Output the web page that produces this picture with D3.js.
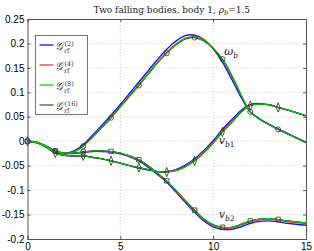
<!DOCTYPE html>
<html>
<head>
<meta charset="utf-8">
<script src="https://cdn.jsdelivr.net/npm/d3@7"></script>
<style>
  body { margin: 0; background: #fff; }
  svg { display: block; }
</style>
</head>
<body>
<div id="chart"></div>
<script>
// time samples
const tValues = [0, 0.5, 1, 1.5, 2, 2.5, 3, 3.5, 4, 4.5, 5, 5.5, 6, 6.5, 7, 7.5,
    8, 8.5, 9, 9.5, 10, 10.5, 11, 11.5, 12, 12.5, 13, 13.5, 14, 14.5, 15];

// omega_b for each refinement
const omega2 = [0, -0.002, -0.010, -0.020, -0.025, -0.020, -0.007, 0.012, 0.032, 0.053, 0.075, 0.098, 0.121, 0.144, 0.167, 0.188,
    0.205, 0.216, 0.217, 0.208, 0.189, 0.162, 0.127, 0.090, 0.060, 0.046, 0.035, 0.025, 0.016, 0.007, -0.002];
const omega4 = [0, -0.002, -0.010, -0.020, -0.026, -0.021, -0.009, 0.010, 0.030, 0.050, 0.072, 0.094, 0.116, 0.139, 0.162, 0.182,
    0.199, 0.211, 0.214, 0.207, 0.191, 0.167, 0.133, 0.093, 0.060, 0.045, 0.034, 0.024, 0.015, 0.006, -0.003];
const omega8 = [0, -0.002, -0.010, -0.020, -0.026, -0.022, -0.010, 0.008, 0.028, 0.048, 0.070, 0.092, 0.114, 0.137, 0.160, 0.180,
    0.197, 0.210, 0.213, 0.205, 0.190, 0.168, 0.135, 0.095, 0.060, 0.045, 0.034, 0.024, 0.015, 0.006, -0.003];
const omega16 = [0, -0.002, -0.010, -0.020, -0.026, -0.022, -0.010, 0.008, 0.028, 0.048, 0.070, 0.092, 0.114, 0.137, 0.160, 0.180,
    0.197, 0.209, 0.212, 0.205, 0.190, 0.168, 0.135, 0.095, 0.060, 0.045, 0.034, 0.024, 0.015, 0.006, -0.003];

// v_b1
const vb1_2 = [0, -0.003, -0.012, -0.024, -0.029, -0.030, -0.030, -0.033, -0.036, -0.040, -0.045, -0.050, -0.055, -0.059, -0.062, -0.062,
    -0.058, -0.049, -0.036, -0.019, 0.001, 0.024, 0.044, 0.063, 0.075, 0.077, 0.074, 0.069, 0.064, 0.058, 0.052];
const vb1_4 = [0, -0.003, -0.012, -0.024, -0.029, -0.030, -0.030, -0.033, -0.036, -0.040, -0.045, -0.050, -0.054, -0.058, -0.062, -0.063,
    -0.059, -0.051, -0.038, -0.022, -0.002, 0.021, 0.040, 0.060, 0.074, 0.076, 0.074, 0.069, 0.064, 0.058, 0.052];
const vb1_8 = [0, -0.003, -0.012, -0.024, -0.029, -0.030, -0.030, -0.033, -0.036, -0.040, -0.045, -0.050, -0.054, -0.058, -0.062, -0.063,
    -0.060, -0.052, -0.040, -0.024, -0.004, 0.019, 0.038, 0.059, 0.073, 0.076, 0.075, 0.069, 0.064, 0.058, 0.052];
const vb1_16 = [0, -0.003, -0.012, -0.024, -0.029, -0.030, -0.030, -0.033, -0.036, -0.040, -0.045, -0.050, -0.054, -0.058, -0.062, -0.063,
    -0.060, -0.052, -0.040, -0.024, -0.004, 0.019, 0.038, 0.059, 0.073, 0.076, 0.075, 0.069, 0.064, 0.058, 0.052];

// v_b2
const vb2_2 = [0, -0.003, -0.011, -0.020, -0.025, -0.025, -0.023, -0.021, -0.021, -0.022, -0.026, -0.032, -0.040, -0.053, -0.068, -0.084,
    -0.104, -0.125, -0.145, -0.163, -0.175, -0.180, -0.180, -0.175, -0.168, -0.164, -0.163, -0.165, -0.168, -0.170, -0.172];
const vb2_4 = [0, -0.003, -0.011, -0.020, -0.024, -0.024, -0.022, -0.020, -0.020, -0.021, -0.025, -0.031, -0.039, -0.051, -0.066, -0.082,
    -0.102, -0.123, -0.143, -0.161, -0.173, -0.178, -0.178, -0.172, -0.165, -0.161, -0.160, -0.162, -0.165, -0.167, -0.169];
const vb2_8 = [0, -0.003, -0.011, -0.020, -0.024, -0.024, -0.022, -0.020, -0.020, -0.021, -0.024, -0.030, -0.038, -0.050, -0.065, -0.081,
    -0.101, -0.121, -0.141, -0.159, -0.171, -0.176, -0.176, -0.170, -0.163, -0.159, -0.158, -0.160, -0.163, -0.165, -0.167];
const vb2_16 = [0, -0.003, -0.011, -0.020, -0.024, -0.024, -0.022, -0.020, -0.020, -0.021, -0.024, -0.030, -0.038, -0.050, -0.065, -0.081,
    -0.101, -0.121, -0.141, -0.159, -0.171, -0.176, -0.176, -0.170, -0.163, -0.159, -0.158, -0.160, -0.163, -0.165, -0.167];

const levels = ["2", "4", "8", "16"];
const levelColors = ["#1010ff", "#ff4050", "#00d000", "#000000"];
const legendColors = ["#3a3aff", "#f06070", "#30e030", "#777777"];
const xTicks = [0, 5, 10, 15];
const yTicks = [-0.2, -0.15, -0.1, -0.05, 0, 0.05, 0.1, 0.15, 0.2, 0.25];
const titleText = "Two falling bodies, body 1, ";

const width = 314, height = 251;
const margin = { top: 19, right: 8, bottom: 12, left: 27.5 };

const svg = d3.select("#chart").append("svg")
    .attr("width", width)
    .attr("height", height);

const xScale = d3.scaleLinear().domain([0, 15]).range([margin.left, width - margin.right]);
const yScale = d3.scaleLinear().domain([-0.2, 0.25]).range([height - margin.bottom, margin.top]);

// grid
svg.append("g").selectAll("line").data(xTicks.slice(1, -1)).enter().append("line")
    .attr("x1", d => xScale(d)).attr("x2", d => xScale(d))
    .attr("y1", yScale(-0.2)).attr("y2", yScale(0.25))
    .attr("stroke", "#b5b5b5").attr("stroke-width", 0.7).attr("stroke-dasharray", "1,2");
svg.append("g").selectAll("line").data(yTicks.slice(1, -1)).enter().append("line")
    .attr("y1", d => yScale(d)).attr("y2", d => yScale(d))
    .attr("x1", xScale(0)).attr("x2", xScale(15))
    .attr("stroke", "#b5b5b5").attr("stroke-width", 0.7).attr("stroke-dasharray", "1,2");

// series
const seriesGroups = [
    { name: "omega", sets: [omega2, omega4, omega8, omega16], marker: "circle" },
    { name: "vb1", sets: [vb1_2, vb1_4, vb1_8, vb1_16], marker: "diamond" },
    { name: "vb2", sets: [vb2_2, vb2_4, vb2_8, vb2_16], marker: "square" }
];

const line = d3.line()
    .x((d, i) => xScale(tValues[i]))
    .y(d => yScale(d))
    .curve(d3.curveCatmullRom.alpha(0.5));

const drawOrder = [0, 1, 3, 2];
drawOrder.forEach(k => {
    seriesGroups.forEach(g => {
        svg.append("path")
            .datum(g.sets[k])
            .attr("fill", "none")
            .attr("stroke", levelColors[k])
            .attr("stroke-width", k === 0 ? 1.4 : 1.1)
            .attr("d", line);
    });
});

// markers every 1.5 time units on the finest run
const symbols = { circle: d3.symbolCircle, diamond: d3.symbolDiamond, square: d3.symbolSquare };
const sizes = { circle: 20, diamond: 16, square: 20 };
seriesGroups.forEach(g => {
    const pts = g.sets[3].map((v, i) => ({ t: tValues[i], v: v })).filter((d, i) => i % 3 === 0 && i < 30);
    svg.append("g").selectAll("path").data(pts).enter().append("path")
        .attr("transform", d => `translate(${xScale(d.t)},${yScale(d.v)})` + (g.marker === "diamond" ? " scale(0.9,1.25)" : ""))
        .attr("d", d3.symbol().type(symbols[g.marker]).size(sizes[g.marker]))
        .attr("fill", "none")
        .attr("stroke", "#333")
        .attr("stroke-width", 0.8);
});

// axes box
const xAxis = d3.axisBottom(xScale).tickValues(xTicks).tickSize(-3).tickPadding(4).tickFormat(d3.format("d"));
const yAxis = d3.axisLeft(yScale).tickValues(yTicks).tickSize(-3).tickPadding(3).tickFormat(d => d === 0 ? "0" : String(d));

svg.append("g").attr("transform", `translate(0,${yScale(-0.2)})`).call(xAxis);
svg.append("g").attr("transform", `translate(0,${yScale(0.25)})`)
    .call(d3.axisTop(xScale).tickValues(xTicks).tickSize(-3).tickFormat(""));
svg.append("g").attr("transform", `translate(${xScale(0)},0)`).call(yAxis);
svg.append("g").attr("transform", `translate(${xScale(15)},0)`)
    .call(d3.axisRight(yScale).tickValues(yTicks).tickSize(-3).tickFormat(""));

svg.selectAll(".domain").attr("stroke", "#555").attr("stroke-width", 1);
svg.selectAll(".tick line").attr("stroke", "#555");
svg.selectAll(".tick text")
    .attr("font-family", "Liberation Sans, Arial, sans-serif")
    .attr("font-size", 10)
    .attr("fill", "#000");

// title
const title = svg.append("text")
    .attr("x", (xScale(0) + xScale(15)) / 2 + 5)
    .attr("y", 12.5)
    .attr("text-anchor", "middle")
    .attr("font-family", "DejaVu Serif, serif")
    .attr("font-size", 9)
    .attr("fill", "#222");
title.append("tspan").text(titleText);
title.append("tspan").attr("font-style", "italic").text("ρ");
title.append("tspan").attr("font-style", "italic").attr("font-size", 6.5).attr("dy", 2).text("b");
title.append("tspan").attr("dy", -2).text("=1.5");

// curve labels
function curveLabel(x, y, main, sub) {
    const t = svg.append("text")
        .attr("x", x).attr("y", y)
        .attr("font-family", "DejaVu Serif, serif")
        .attr("font-size", 11)
        .attr("fill", "#222");
    t.append("tspan").attr("font-style", "italic").text(main);
    t.append("tspan").attr("font-size", 7.5).attr("font-style", "italic").attr("dy", 3).text(sub[0]);
    if (sub.length > 1) t.append("tspan").attr("font-size", 7.5).text(sub.slice(1));
}
curveLabel(xScale(10.6), yScale(0.176), "ω", "b");
curveLabel(xScale(10.3), yScale(-0.006), "v", "b1");
curveLabel(xScale(10.3), yScale(-0.158), "v", "b2");

// legend
const legend = svg.append("g");
legend.append("rect")
    .attr("x", 35.5).attr("y", 35.5).attr("width", 52).attr("height", 79)
    .attr("fill", "#fff").attr("stroke", "#555").attr("stroke-width", 0.8);
levels.forEach((lv, i) => {
    const ly = 45 + i * 20;
    legend.append("line")
        .attr("x1", 39.5).attr("x2", 53.5).attr("y1", ly).attr("y2", ly)
        .attr("stroke", legendColors[i])
        .attr("stroke-width", 1.6);
    legend.append("text")
        .attr("x", 55).attr("y", ly + 4.5)
        .attr("font-family", "DejaVu Serif, serif")
        .attr("font-size", 11)
        .attr("font-style", "italic")
        .attr("fill", "#333")
        .text("𝒢");
    legend.append("text")
        .attr("x", 64.5).attr("y", ly + 0.5)
        .attr("font-family", "DejaVu Serif, serif")
        .attr("font-size", 6.5)
        .attr("fill", "#333")
        .text(`(${lv})`);
    legend.append("text")
        .attr("x", 64).attr("y", ly + 7.5)
        .attr("font-family", "DejaVu Serif, serif")
        .attr("font-size", 6.5)
        .attr("fill", "#333")
        .text("rf");
});
</script>
</body>
</html>
